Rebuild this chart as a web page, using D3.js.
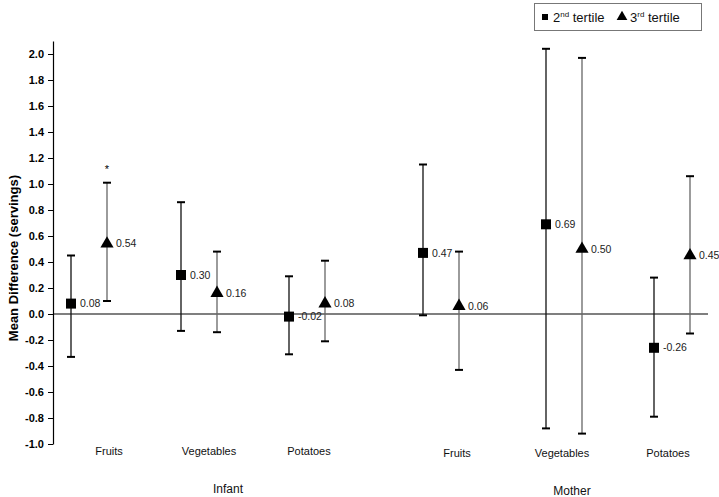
<!DOCTYPE html>
<html><head><meta charset="utf-8">
<script src="https://cdn.jsdelivr.net/npm/d3@7"></script>
<style>body{margin:0;background:#fff}svg{display:block;font-family:"Liberation Sans",Arial,sans-serif}</style>
</head><body><svg id="c" width="719" height="497"></svg>
<script>
const groups = ["Infant", "Mother"];
const categories = ["Fruits", "Vegetables", "Potatoes"];
const series = ["2nd tertile", "3rd tertile"];
// values per group x category, order: Infant F,V,P ; Mother F,V,P
const est2 = [0.08, 0.30, -0.02, 0.47, 0.69, -0.26];
const lo2  = [-0.33, -0.13, -0.31, -0.01, -0.88, -0.79];
const hi2  = [0.45, 0.86, 0.29, 1.15, 2.04, 0.28];
const est3 = [0.54, 0.16, 0.08, 0.06, 0.50, 0.45];
const lo3  = [0.10, -0.14, -0.21, -0.43, -0.92, -0.15];
const hi3  = [1.01, 0.48, 0.41, 0.48, 1.97, 1.06];
const sig3 = [true, false, false, false, false, false];
const yTicks = [-1.0,-0.8,-0.6,-0.4,-0.2,0.0,0.2,0.4,0.6,0.8,1.0,1.2,1.4,1.6,1.8,2.0];

const svg = d3.select("#c");
const y = d3.scaleLinear().domain([-1, 2.1]).range([444, 41]);
// layout of each panel (pair centres and labels)
const markPos = {Infant: [89, 199, 307], Mother: [441, 564, 672]};
const labelPos = {Infant: [109, 209, 309], Mother: [457, 562, 668]};
const groupLabelX = {Infant: 228, Mother: 572};
const cx = {}, lx = {};
groups.forEach(g => {
  cx[g] = d3.scaleOrdinal().domain(categories).range(markPos[g]);
  lx[g] = d3.scaleOrdinal().domain(categories).range(labelPos[g]);
});
const sx = d3.scalePoint().domain(series).range([-18, 18]);

const rows = [];
groups.forEach((g, gi) => categories.forEach((c, ci) => {
  const i = gi * categories.length + ci;
  rows.push({g, c, s: series[0], v: est2[i], lo: lo2[i], hi: hi2[i], sig: false});
  rows.push({g, c, s: series[1], v: est3[i], lo: lo3[i], hi: hi3[i], sig: sig3[i]});
}));
const X = d => cx[d.g](d.c) + sx(d.s);

// zero line
svg.append("line").attr("x1", 53).attr("x2", 708).attr("y1", y(0)).attr("y2", y(0))
  .attr("stroke", "#000").attr("stroke-width", 1.2);

// y axis
const ax = svg.append("g").attr("transform", "translate(53,0)")
  .call(d3.axisLeft(y).tickValues(yTicks).tickSize(5).tickSizeOuter(0).tickFormat(d3.format(".1f")));
ax.select(".domain").attr("stroke", "#000").attr("stroke-width", 1.2);
ax.selectAll(".tick line").attr("stroke", "#000");
ax.selectAll(".tick text").attr("font-size", 11).attr("font-weight", "bold")
  .attr("font-family", "Liberation Sans, Arial, sans-serif").attr("x", -9)
  .text(d => d3.format(".1f")(d).replace("−", "-"));

svg.append("text").attr("transform", `translate(18,${y(0.43)}) rotate(-90)`)
  .attr("text-anchor", "middle").attr("font-size", 13).attr("font-weight", "bold")
  .text("Mean Difference (servings)");

// error bars
const eb = svg.append("g").selectAll("g").data(rows).join("g");
eb.append("line").attr("x1", X).attr("x2", X).attr("y1", d => y(d.lo)).attr("y2", d => y(d.hi))
  .attr("stroke", d => d.s === series[0] ? "#111" : "#666").attr("stroke-width", 1.3);
["lo", "hi"].forEach(k => eb.append("line")
  .attr("x1", d => X(d) - 4).attr("x2", d => X(d) + 4)
  .attr("y1", d => y(d[k])).attr("y2", d => y(d[k]))
  .attr("stroke", "#000").attr("stroke-width", 2));

// markers
const sq = d3.symbol().type(d3.symbolSquare).size(100);
const tri = d3.symbol().type(d3.symbolTriangle).size(75);
eb.append("path").attr("transform", d => `translate(${X(d)},${y(d.v)})`)
  .attr("d", d => d.s === series[0] ? sq() : tri()).attr("fill", "#000");
eb.append("text").attr("x", d => X(d) + 9).attr("y", d => y(d.v)).attr("dy", "0.35em")
  .attr("font-size", 10.5).attr("fill", "#222")
  .text(d => d3.format(".2f")(d.v).replace("−", "-"));
eb.filter(d => d.sig).append("text").attr("x", X).attr("y", d => y(d.hi) - 10)
  .attr("text-anchor", "middle").attr("font-size", 11).text("*");

// category labels
groups.forEach((g, gi) => categories.forEach(c => {
  svg.append("text").attr("x", lx[g](c)).attr("y", gi ? 457 : 455)
    .attr("text-anchor", "middle").attr("font-size", 11).attr("fill", "#111").text(c);
}));
groups.forEach((g, i) => svg.append("text").attr("x", groupLabelX[g])
  .attr("y", i ? 495 : 493).attr("text-anchor", "middle").attr("font-size", 12).attr("fill", "#111").text(g));

// legend
const lg = svg.append("g");
lg.append("rect").attr("x", 534.5).attr("y", 3.5).attr("width", 167).attr("height", 27)
  .attr("fill", "#fff").attr("stroke", "#777").attr("stroke-width", 1);
const items = lg.selectAll("g").data(series).join("g")
  .attr("transform", (d, i) => `translate(${545 + i * 77},17)`);
items.append("path").attr("d", (d, i) => i ? d3.symbol().type(d3.symbolTriangle).size(50)() : d3.symbol().type(d3.symbolSquare).size(36)())
  .attr("fill", "#000");
const t = items.append("text").attr("x", 8).attr("y", 5).attr("font-size", 13).attr("fill", "#111");
t.append("tspan").text(d => d[0]);
t.append("tspan").attr("font-size", 8).attr("dy", -5).text(d => d.slice(1, 3));
t.append("tspan").attr("dy", 5).text(d => " " + d.slice(4));
</script></body></html>
